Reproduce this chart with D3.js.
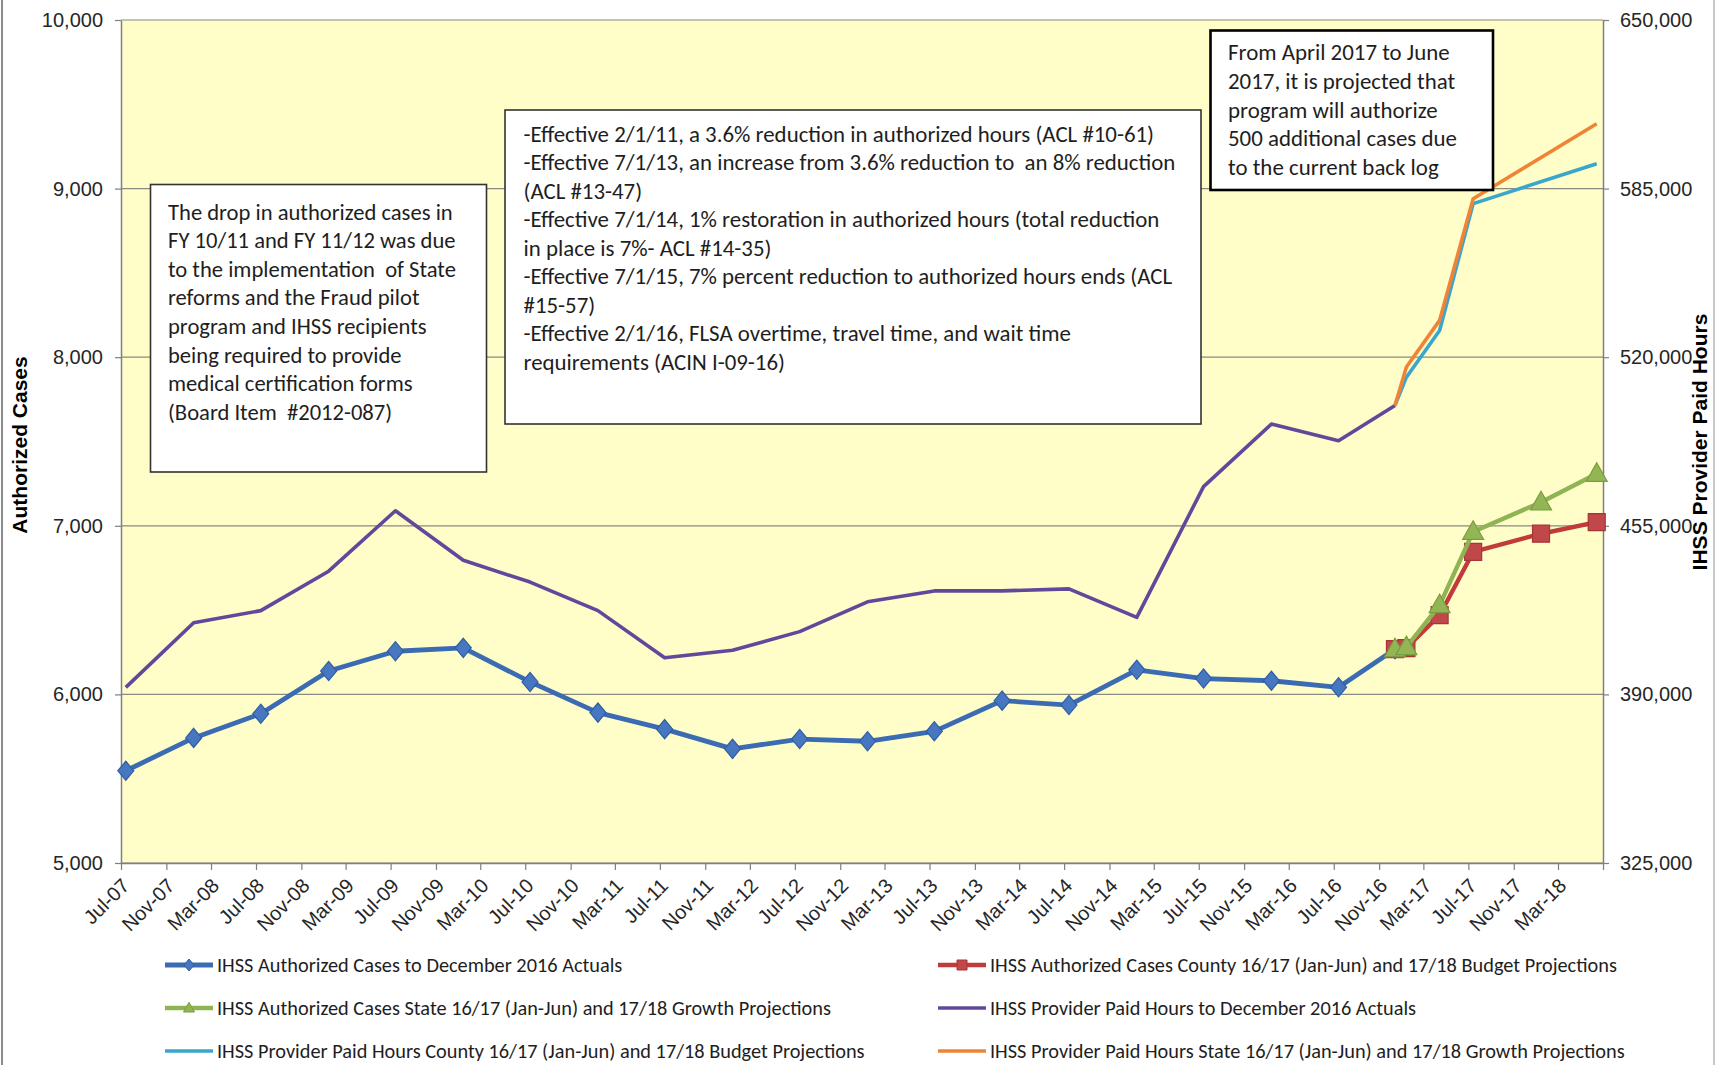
<!DOCTYPE html>
<html>
<head>
<meta charset="utf-8">
<script src="https://cdn.jsdelivr.net/npm/d3@7"></script>
<style>
  body { margin: 0; background: #fff; }
  svg { display: block; }
</style>
</head>
<body>
<svg id="chart" width="1721" height="1065"></svg>
<script>
// x axis labels, every 4 months
const xTickLabels = ['Jul-07', 'Nov-07', 'Mar-08', 'Jul-08', 'Nov-08', 'Mar-09', 'Jul-09', 'Nov-09', 'Mar-10',
  'Jul-10', 'Nov-10', 'Mar-11', 'Jul-11', 'Nov-11', 'Mar-12', 'Jul-12', 'Nov-12', 'Mar-13', 'Jul-13', 'Nov-13',
  'Mar-14', 'Jul-14', 'Nov-14', 'Mar-15', 'Jul-15', 'Nov-15', 'Mar-16', 'Jul-16', 'Nov-16', 'Mar-17', 'Jul-17',
  'Nov-17', 'Mar-18'];
const casesTicks = [5000, 6000, 7000, 8000, 9000, 10000];
const hoursTicks = [325000, 390000, 455000, 520000, 585000, 650000];

// actuals
const actualPeriods = ['Jul-07', 'Jan-08', 'Jul-08', 'Jan-09', 'Jul-09', 'Jan-10', 'Jul-10', 'Jan-11', 'Jul-11',
  'Jan-12', 'Jul-12', 'Jan-13', 'Jul-13', 'Jan-14', 'Jul-14', 'Jan-15', 'Jul-15', 'Jan-16', 'Jul-16', 'Dec-16'];
const casesActual = [5547, 5742, 5885, 6139, 6256, 6276, 6074, 5892, 5794, 5677, 5735, 5722, 5781, 5963, 5937,
  6146, 6094, 6081, 6042, 6268];
const hoursActual = [392700, 417600, 422300, 437500, 460800, 441700, 433300, 422300, 404100, 407000, 414200,
  425700, 429900, 429900, 430700, 419700, 470100, 494200, 487800, 501400];

// projections
const casesProjPeriods = ['Dec-16', 'Jan-17', 'Apr-17', 'Jul-17', 'Jan-18', 'Jun-18'];
const casesCounty = [6268, 6275, 6470, 6845, 6953, 7022];
const casesState = [6268, 6281, 6530, 6965, 7140, 7309];
const hoursProjPeriods = ['Dec-16', 'Jan-17', 'Apr-17', 'Jul-17', 'Jun-18'];
const hoursCounty = [501400, 512300, 530300, 579200, 594600];
const hoursState = [501400, 516200, 534200, 581100, 610000];

const noteDrop = ['The drop in authorized cases in', 'FY 10/11 and FY 11/12 was due', 'to the implementation  of State',
  'reforms and the Fraud pilot', 'program and IHSS recipients', 'being required to provide',
  'medical certification forms', '(Board Item  #2012-087)'];
const noteHours = ['-Effective 2/1/11, a 3.6% reduction in authorized hours (ACL #10-61)',
  '-Effective 7/1/13, an increase from 3.6% reduction to  an 8% reduction', '(ACL #13-47)',
  '-Effective 7/1/14, 1% restoration in authorized hours (total reduction', 'in place is 7%- ACL #14-35)',
  '-Effective 7/1/15, 7% percent reduction to authorized hours ends (ACL', '#15-57)',
  '-Effective 2/1/16, FLSA overtime, travel time, and wait time', 'requirements (ACIN I-09-16)'];
const noteBacklog = ['From April 2017 to June', '2017, it is projected that', 'program will authorize',
  '500 additional cases due', 'to the current back log'];

const svg = d3.select('#chart');
const plot = {left: 121, right: 1603, top: 20, bottom: 863};
const axisFont = "'Liberation Sans', Arial, sans-serif";
const noteFont = "Carlito, Calibri, Lato, 'Liberation Sans', sans-serif";

const parseMonth = d3.timeParse('%b-%y');
// points sit a little past the start of their month on the date axis
const pointDate = s => d3.timeDay.offset(parseMonth(s), 13);

const x = d3.scaleTime()
    .domain([parseMonth('Jul-07'), parseMonth('Jul-18')])
    .range([plot.left, plot.right]);
const yCases = d3.scaleLinear().domain([5000, 10000]).range([plot.bottom, plot.top]);
const yHours = d3.scaleLinear().domain([325000, 650000]).range([plot.bottom, plot.top]);

// chart frame
svg.append('line').attr('x1', 2).attr('x2', 2).attr('y1', 0).attr('y2', 1065)
    .attr('stroke', '#8c8c8c').attr('stroke-width', 2);
svg.append('line').attr('x1', 1714).attr('x2', 1714).attr('y1', 0).attr('y2', 1065)
    .attr('stroke', '#c8c8c8').attr('stroke-width', 2);

svg.append('rect')
    .attr('x', plot.left).attr('y', plot.top)
    .attr('width', plot.right - plot.left).attr('height', plot.bottom - plot.top)
    .attr('fill', '#fffec8');

// gridlines
svg.append('g').selectAll('line')
  .data(casesTicks)
  .join('line')
    .attr('x1', plot.left).attr('x2', plot.right)
    .attr('y1', d => yCases(d)).attr('y2', d => yCases(d))
    .attr('stroke', '#8a8a80').attr('stroke-width', 1.2);

function styleAxis (g) {
  g.select('.domain').attr('stroke', '#7f7f7f').attr('stroke-width', 1.5);
  g.selectAll('.tick line').attr('stroke', '#7f7f7f').attr('stroke-width', 1.2);
  g.selectAll('text').attr('font-family', axisFont).attr('font-size', 20).attr('fill', '#262626');
}

svg.append('g')
    .attr('transform', `translate(${plot.left},0)`)
    .call(d3.axisLeft(yCases).tickValues(casesTicks).tickFormat(d3.format(',')).tickSize(6).tickPadding(12).tickSizeOuter(0))
    .call(styleAxis);

svg.append('g')
    .attr('transform', `translate(${plot.right},0)`)
    .call(d3.axisRight(yHours).tickValues(hoursTicks).tickFormat(d3.format(',')).tickSize(6).tickPadding(11).tickSizeOuter(0))
    .call(styleAxis);

const xAxis = svg.append('g')
    .attr('transform', `translate(0,${plot.bottom})`)
    .call(d3.axisBottom(x)
      .tickValues(xTickLabels.map(parseMonth).concat([x.domain()[1]]))
      .tickFormat(d => xTickLabels.includes(d3.timeFormat('%b-%y')(d)) ? d3.timeFormat('%b-%y')(d) : '')
      .tickSize(7).tickSizeOuter(0))
    .call(styleAxis);
xAxis.selectAll('.tick text')
    .attr('x', 0).attr('y', 0).attr('dy', 0)
    .attr('text-anchor', 'end')
    .attr('transform', 'translate(9,24) rotate(-45)');

// axis titles
svg.append('text')
    .attr('transform', 'translate(27,445) rotate(-90)')
    .attr('text-anchor', 'middle')
    .attr('font-family', axisFont).attr('font-weight', 'bold').attr('font-size', 21)
    .text('Authorized Cases');
svg.append('text')
    .attr('transform', 'translate(1707,442) rotate(-90)')
    .attr('text-anchor', 'middle')
    .attr('font-family', axisFont).attr('font-weight', 'bold').attr('font-size', 21)
    .text('IHSS Provider Paid Hours');

const toPoints = (periods, values) => periods.map((p, i) => ({date: pointDate(p), v: values[i]}));

const series = [
  {name: 'IHSS Provider Paid Hours to December 2016 Actuals', data: toPoints(actualPeriods, hoursActual),
    y: yHours, color: '#62489b', width: 3.6, marker: null},
  {name: 'IHSS Provider Paid Hours County 16/17 (Jan-Jun) and 17/18 Budget Projections', data: toPoints(hoursProjPeriods, hoursCounty),
    y: yHours, color: '#3aa6cb', width: 3.6, marker: null},
  {name: 'IHSS Provider Paid Hours State 16/17 (Jan-Jun) and 17/18 Growth Projections', data: toPoints(hoursProjPeriods, hoursState),
    y: yHours, color: '#f08436', width: 3.6, marker: null},
  {name: 'IHSS Authorized Cases to December 2016 Actuals', data: toPoints(actualPeriods, casesActual),
    y: yCases, color: '#3b6bb2', width: 4.8, marker: 'diamond', fill: '#4677c0', stroke: '#2f5ea3'},
  {name: 'IHSS Authorized Cases County 16/17 (Jan-Jun) and 17/18 Budget Projections', data: toPoints(casesProjPeriods, casesCounty),
    y: yCases, color: '#c23b3b', width: 4.4, marker: 'square', fill: '#c0474a', stroke: '#a83436'},
  {name: 'IHSS Authorized Cases State 16/17 (Jan-Jun) and 17/18 Growth Projections', data: toPoints(casesProjPeriods, casesState),
    y: yCases, color: '#8fb453', width: 4.4, marker: 'triangle', fill: '#93b655', stroke: '#7a9c40'}
];

const markerPath = {
  diamond: s => `M0,${-s * 1.2}L${s},0L0,${s * 1.2}L${-s},0Z`,
  square: s => `M${-s},${-s}H${s}V${s}H${-s}Z`,
  triangle: s => `M0,${-s * 1.15}L${s * 1.1},${s * 0.8}L${-s * 1.1},${s * 0.8}Z`
};
const markerSize = {diamond: 8, square: 8.5, triangle: 9.5};

series.forEach(function (s) {
  const line = d3.line().x(d => x(d.date)).y(d => s.y(d.v));
  svg.append('path')
      .datum(s.data)
      .attr('d', line)
      .attr('fill', 'none')
      .attr('stroke', s.color)
      .attr('stroke-width', s.width)
      .attr('stroke-linejoin', 'round');
  if (s.marker) {
    svg.append('g').selectAll('path')
      .data(s.data)
      .join('path')
        .attr('transform', d => `translate(${x(d.date)},${s.y(d.v)})`)
        .attr('d', markerPath[s.marker](markerSize[s.marker]))
        .attr('fill', s.fill)
        .attr('stroke', s.stroke)
        .attr('stroke-width', 1.2);
  }
});

// scale a group of lines so its widest line matches the reference width
function fitText (sel, target) {
  let w = 0;
  sel.each(function () { w = Math.max(w, this.getComputedTextLength()); });
  const size = parseFloat(sel.attr('font-size'));
  sel.attr('font-size', size * target / w);
}

function noteBox (lines, box, textX, firstBaseline, lineStep, targetWidth, strokeWidth) {
  const g = svg.append('g');
  g.append('rect')
      .attr('x', box[0]).attr('y', box[1]).attr('width', box[2]).attr('height', box[3])
      .attr('fill', '#fff').attr('stroke', strokeWidth > 2 ? '#000' : '#333')
      .attr('stroke-width', strokeWidth);
  const t = g.selectAll('text')
    .data(lines)
    .join('text')
      .attr('x', textX)
      .attr('y', (d, i) => firstBaseline + i * lineStep)
      .attr('font-family', noteFont)
      .attr('font-size', 20)
      .attr('fill', '#1e1e1e')
      .attr('xml:space', 'preserve')
      .style('white-space', 'pre')
      .text(d => d);
  fitText(t, targetWidth);
}

noteBox(noteDrop, [150.5, 184.5, 336, 287.5], 168, 219.5, 28.6, 288, 1.6);
noteBox(noteHours, [505, 110, 696, 314], 523.5, 141.5, 28.55, 652, 1.6);
noteBox(noteBacklog, [1210.5, 30.5, 282.5, 159.5], 1228, 60, 28.8, 229, 2.6);

// legend
const legendOrder = [3, 4, 5, 0, 1, 2];
const legendPos = [
  {x: 165, y: 965}, {x: 938, y: 965},
  {x: 165, y: 1008}, {x: 938, y: 1008},
  {x: 165, y: 1051}, {x: 938, y: 1051}
];
const legendRows = svg.append('g').selectAll('g')
  .data(legendOrder.map(i => series[i]))
  .join('g')
    .attr('transform', (d, i) => `translate(${legendPos[i].x},${legendPos[i].y})`);

legendRows.append('line')
    .attr('x1', 0).attr('x2', 48)
    .attr('stroke', d => d.color)
    .attr('stroke-width', d => d.width);
legendRows.filter(d => d.marker).append('path')
    .attr('transform', 'translate(24,0)')
    .attr('d', d => markerPath[d.marker](5))
    .attr('fill', d => d.fill)
    .attr('stroke', d => d.stroke);
const legendText = legendRows.append('text')
    .attr('x', 52)
    .attr('dy', '0.36em')
    .attr('font-family', noteFont)
    .attr('font-size', 18)
    .attr('fill', '#1e1e1e')
    .text(d => d.name);
fitText(legendText, 648);
</script>
</body>
</html>
